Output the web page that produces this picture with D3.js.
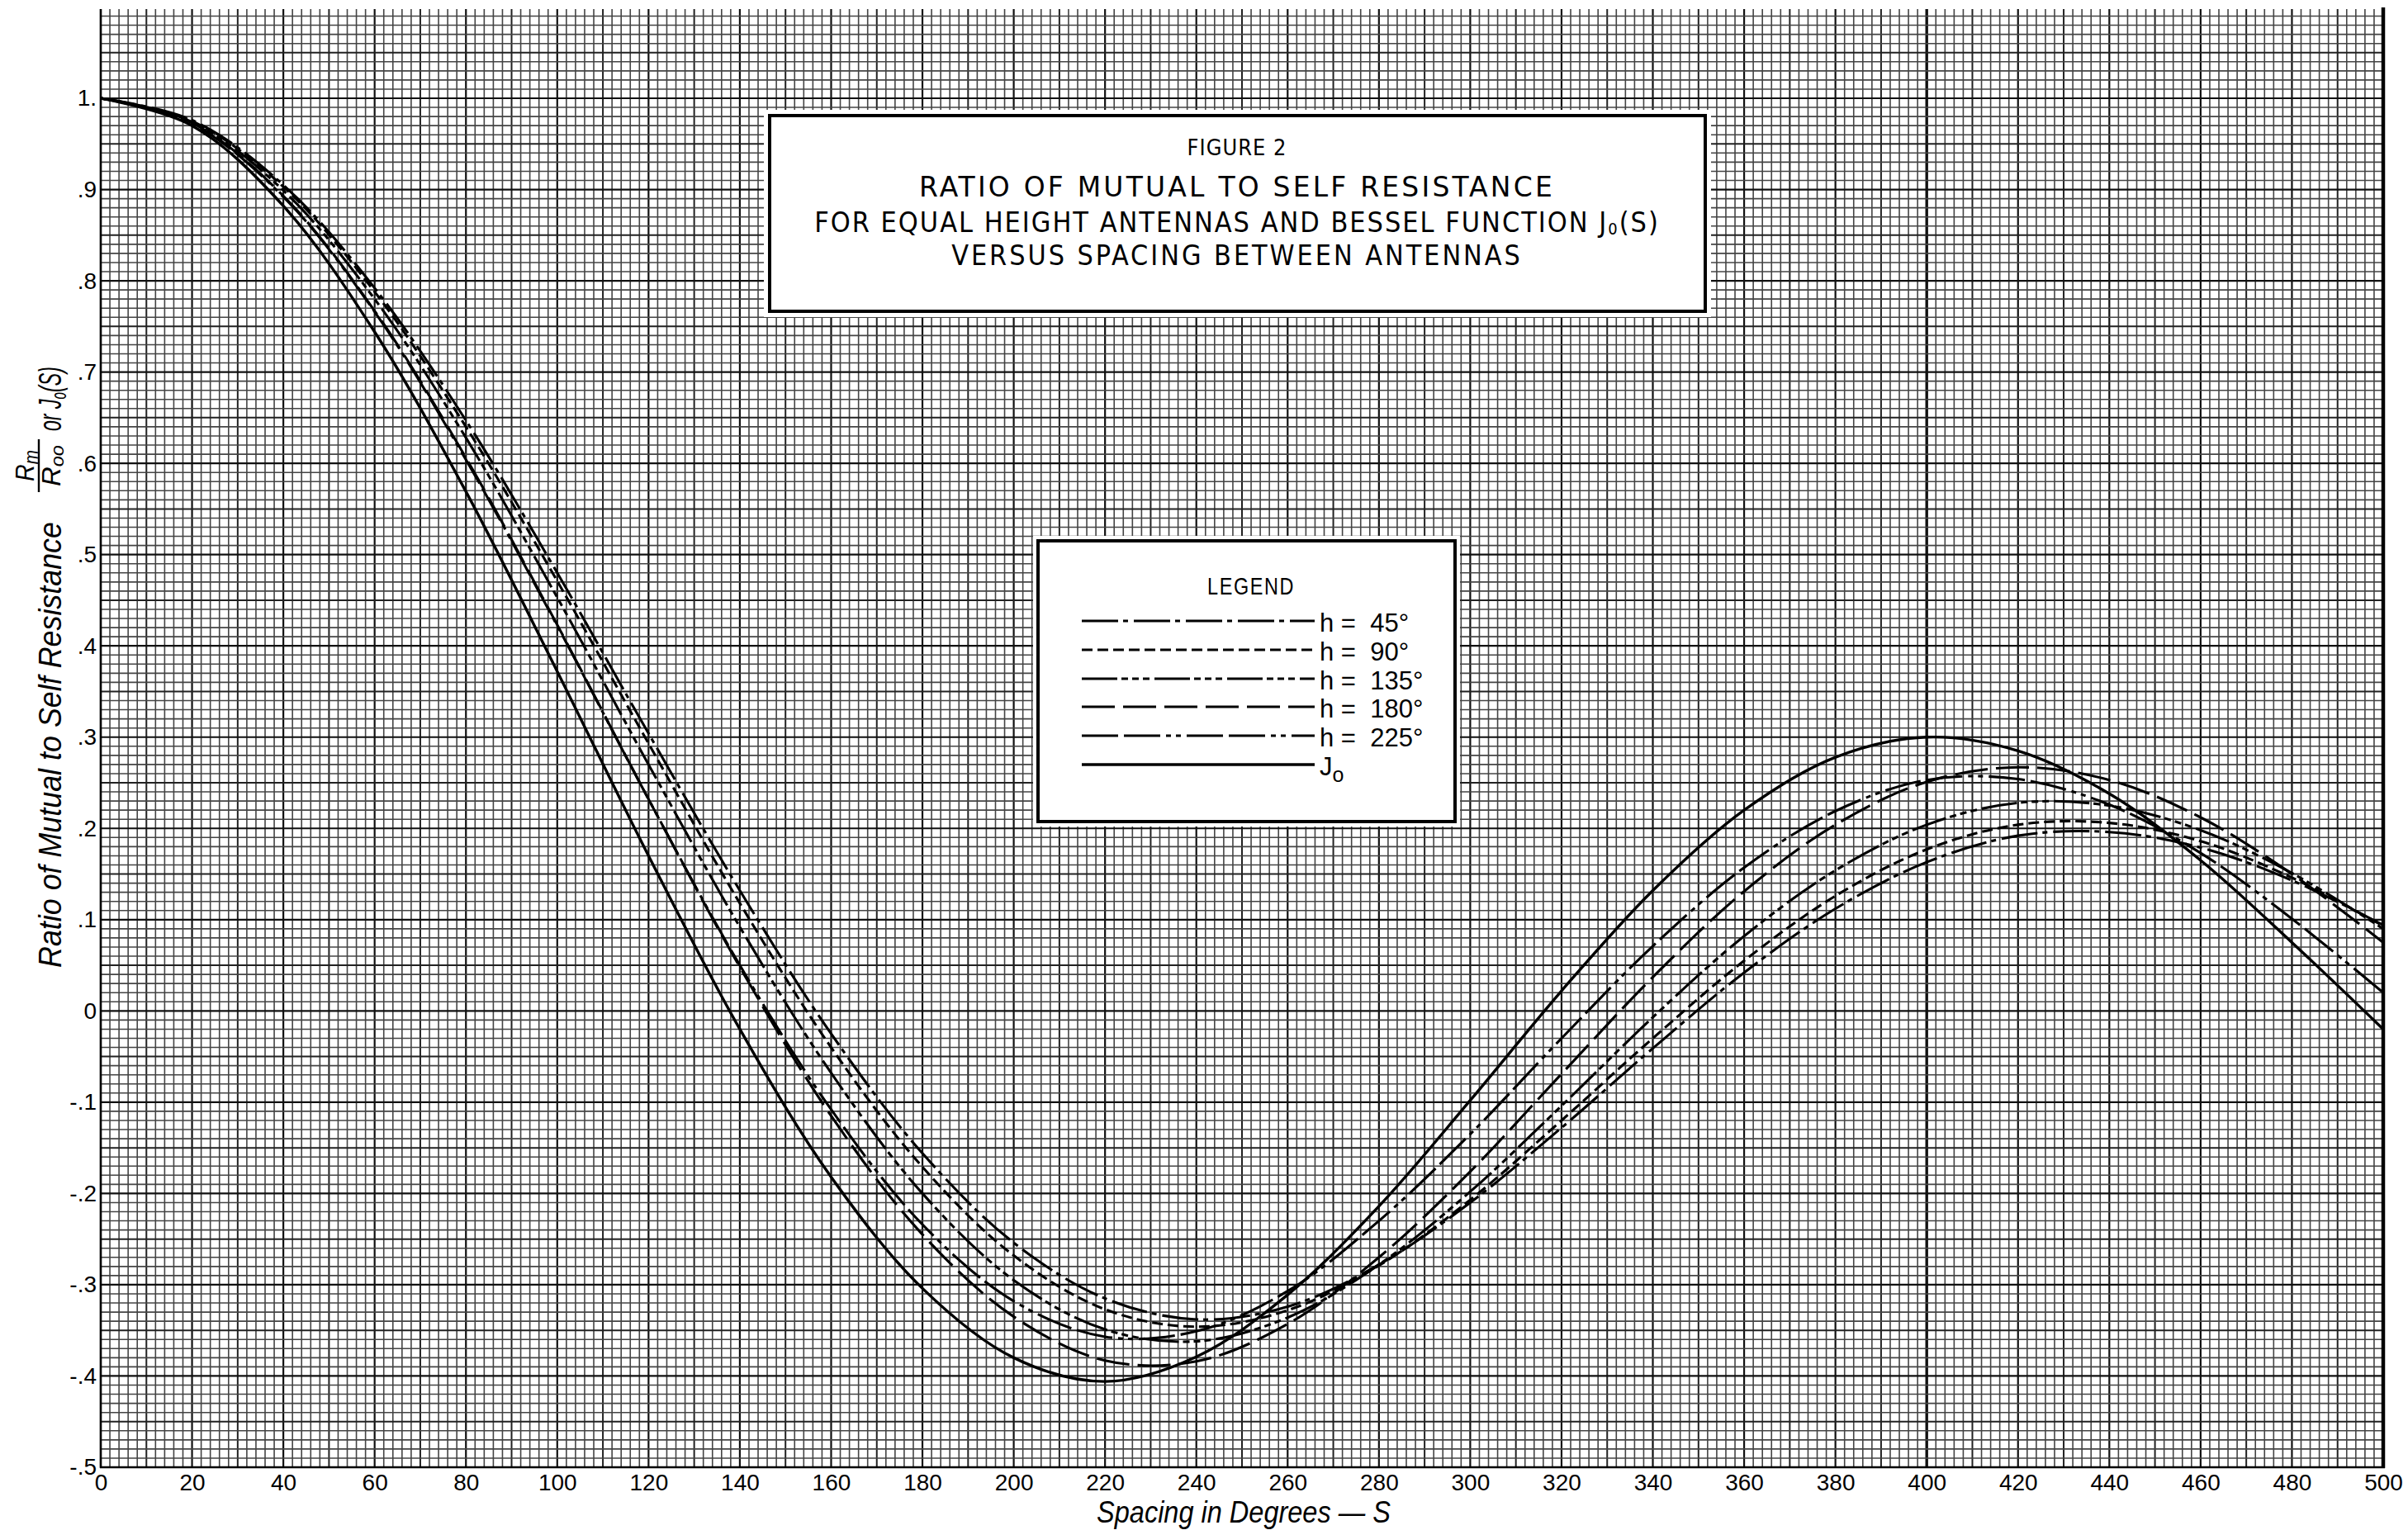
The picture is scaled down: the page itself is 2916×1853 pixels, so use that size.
<!DOCTYPE html>
<html>
<head>
<meta charset="utf-8">
<script src="https://cdn.jsdelivr.net/npm/d3@7"></script>
<style>
  html, body { margin: 0; padding: 0; background: #fff; }
  svg { display: block; }
</style>
</head>
<body>
<svg id="chart"></svg>
<script>
// spacing between antennas, degrees
const spacing = [0, 20, 40, 60, 80, 100, 120, 140, 160, 180, 200, 220, 240,
                 260, 280, 300, 320, 340, 360, 380, 400, 420, 440, 460, 480, 500];

// ratio Rm/Roo, one value per spacing
const jo   = [1.000, 0.970, 0.882, 0.744, 0.569, 0.372, 0.170, -0.020, -0.182, -0.304, -0.380, -0.406, -0.379,
              -0.311, -0.214, -0.098, 0.022, 0.132, 0.220, 0.278, 0.300, 0.285, 0.238, 0.165, 0.075, -0.020];
const h45  = [1.000, 0.976, 0.905, 0.792, 0.647, 0.480, 0.304, 0.132, -0.025, -0.156, -0.254, -0.315, -0.338,
              -0.324, -0.278, -0.210, -0.128, -0.041, 0.042, 0.112, 0.163, 0.192, 0.196, 0.179, 0.143, 0.094];
const h90  = [1.000, 0.975, 0.903, 0.788, 0.640, 0.471, 0.293, 0.118, -0.040, -0.171, -0.268, -0.327, -0.346,
              -0.328, -0.279, -0.207, -0.120, -0.030, 0.055, 0.126, 0.177, 0.204, 0.206, 0.186, 0.146, 0.093];
const h135 = [1.000, 0.974, 0.899, 0.780, 0.628, 0.453, 0.270, 0.092, -0.068, -0.200, -0.295, -0.349, -0.362,
              -0.336, -0.278, -0.198, -0.104, -0.007, 0.082, 0.154, 0.204, 0.228, 0.225, 0.198, 0.151, 0.090];
const h180 = [1.000, 0.973, 0.893, 0.767, 0.606, 0.423, 0.232, 0.048, -0.115, -0.245, -0.335, -0.383, -0.384,
              -0.343, -0.270, -0.176, -0.069, 0.037, 0.131, 0.204, 0.251, 0.267, 0.253, 0.212, 0.150, 0.075];
const h225 = [1.000, 0.972, 0.892, 0.766, 0.604, 0.422, 0.232, 0.050, -0.108, -0.234, -0.318, -0.357, -0.351,
              -0.307, -0.230, -0.135, -0.030, 0.071, 0.157, 0.219, 0.253, 0.254, 0.226, 0.173, 0.101, 0.020];

const xTicks = [0, 20, 40, 60, 80, 100, 120, 140, 160, 180, 200, 220, 240, 260, 280,
                300, 320, 340, 360, 380, 400, 420, 440, 460, 480, 500];
const yTicks = [1, 0.9, 0.8, 0.7, 0.6, 0.5, 0.4, 0.3, 0.2, 0.1, 0, -0.1, -0.2, -0.3, -0.4, -0.5];
const legendNames = ["h = 45°", "h = 90°", "h = 135°", "h = 180°", "h = 225°", "Jo"];

const series = [
  { name: "h = 45°", values: h45 },
  { name: "h = 90°", values: h90 },
  { name: "h = 135°", values: h135 },
  { name: "h = 180°", values: h180 },
  { name: "h = 225°", values: h225 },
  { name: "Jo", values: jo }
];

const dashes = {
  "h = 45°": "44 6 6 7",
  "h = 90°": "13 6",
  "h = 135°": "43 5 8 5 8 5 8 6",
  "h = 180°": "40 10",
  "h = 225°": "44 7 44 7 6 6 6 7",
  "Jo": null
};

const W = 2916, H = 1853;
const SANS = "'Liberation Sans', Arial, sans-serif";
const NARROW = "'Liberation Sans Narrow', 'DejaVu Sans Condensed', 'DejaVu Sans', sans-serif";

const svg = d3.select("#chart").attr("width", W).attr("height", H);
svg.append("rect").attr("width", W).attr("height", H).attr("fill", "#fff");

const x = d3.scaleLinear().domain([0, 500]).range([122, 2886]);
const y = d3.scaleLinear().domain([-0.5, 1]).range([1777, 119]);

// squeeze / stretch a text horizontally to a measured width (hand lettering is narrow)
function squeeze(sel, width) {
  const len = sel.node().getComputedTextLength();
  const x0 = +sel.attr("x");
  const k = width / len;
  sel.attr("transform", `translate(${x0},0) scale(${k.toFixed(4)},1) translate(${-x0},0)`);
}

// graph paper
const grid = svg.append("g");
for (let s = 0; s <= 500; s += 2) {
  const major = s % 20 === 0, mid = s % 10 === 0;
  grid.append("line")
    .attr("x1", x(s)).attr("x2", x(s))
    .attr("y1", y(-0.5)).attr("y2", 11)
    .attr("stroke", major ? "#111" : mid ? "#222" : "#444")
    .attr("stroke-width", s === 400 ? 3.4 : major ? 2.2 : mid ? 2 : 1.6);
}
for (let k = -50; k <= 109; k++) {
  const major = k % 10 === 0, mid = k % 5 === 0;
  grid.append("line")
    .attr("x1", x(0)).attr("x2", x(500))
    .attr("y1", y(k / 100)).attr("y2", y(k / 100))
    .attr("stroke", major ? "#111" : mid ? "#222" : "#444")
    .attr("stroke-width", major ? 2.2 : mid ? 2 : 1.6);
}
grid.append("line").attr("x1", x(500)).attr("x2", x(500))
  .attr("y1", y(-0.5) + 1).attr("y2", 9).attr("stroke", "#000").attr("stroke-width", 4.5);
grid.append("line").attr("x1", x(0)).attr("x2", x(0))
  .attr("y1", y(-0.5) + 1).attr("y2", 11).attr("stroke", "#000").attr("stroke-width", 2.5);
grid.append("line").attr("x1", x(0) - 1).attr("x2", x(500) + 2)
  .attr("y1", y(-0.5)).attr("y2", y(-0.5)).attr("stroke", "#000").attr("stroke-width", 2.5);

// axes (labels only)
const xAxis = svg.append("g")
  .attr("transform", `translate(0,${y(-0.5)})`)
  .call(d3.axisBottom(x).tickValues(xTicks).tickSize(0).tickPadding(8).tickFormat(d3.format("d")));
xAxis.select(".domain").remove();
xAxis.selectAll("text").attr("font-size", 28).attr("font-family", SANS).attr("fill", "#000");

const yFmt = v => v === 1 ? "1." : v === 0 ? "0" : (v < 0 ? "-" : "") + "." + Math.round(Math.abs(v) * 10);
const yAxis = svg.append("g")
  .attr("transform", `translate(${x(0)},0)`)
  .call(d3.axisLeft(y).tickValues(yTicks).tickSize(0).tickPadding(5).tickFormat(yFmt));
yAxis.select(".domain").remove();
yAxis.selectAll("text").attr("font-size", 28).attr("font-family", SANS).attr("fill", "#000");

// title box
svg.append("rect").attr("x", 925).attr("y", 133).attr("width", 1147).attr("height", 251).attr("fill", "#fff");
svg.append("rect").attr("x", 932).attr("y", 140).attr("width", 1133).attr("height", 237)
  .attr("fill", "none").attr("stroke", "#000").attr("stroke-width", 4);

const tcx = 1498;
const title = svg.append("g").attr("font-family", NARROW).attr("font-stretch", "condensed").attr("fill", "#000");
const t0 = title.append("text").attr("x", tcx).attr("y", 188).attr("text-anchor", "middle")
  .attr("font-size", 26).attr("letter-spacing", 1).text("FIGURE 2");
squeeze(t0, 121);
const t1 = title.append("text").attr("x", tcx).attr("y", 238).attr("text-anchor", "middle")
  .attr("font-size", 34).attr("letter-spacing", 3).text("RATIO OF MUTUAL TO SELF RESISTANCE");
squeeze(t1, 770);
const t2 = title.append("text").attr("x", tcx).attr("y", 281).attr("text-anchor", "middle")
  .attr("font-size", 34).attr("letter-spacing", 2);
t2.append("tspan").text("FOR EQUAL HEIGHT ANTENNAS AND BESSEL FUNCTION J");
t2.append("tspan").attr("font-size", 20).attr("dy", 3).text("0");
t2.append("tspan").attr("dy", -3).text("(S)");
squeeze(t2, 1024);
const t3 = title.append("text").attr("x", tcx).attr("y", 321).attr("text-anchor", "middle")
  .attr("font-size", 34).attr("letter-spacing", 3).text("VERSUS SPACING BETWEEN ANTENNAS");
squeeze(t3, 692);

// legend box
svg.append("rect").attr("x", 1251).attr("y", 649).attr("width", 517).attr("height", 352).attr("fill", "#fff");
svg.append("rect").attr("x", 1257).attr("y", 655).attr("width", 505).attr("height", 340)
  .attr("fill", "none").attr("stroke", "#000").attr("stroke-width", 4);
const lt = svg.append("text").attr("x", 1515).attr("y", 720).attr("text-anchor", "middle")
  .attr("font-family", SANS).attr("font-size", 29).attr("letter-spacing", 2).text("LEGEND");
squeeze(lt, 106);

const rowY = [752, 787, 822, 856, 891, 926];
legendNames.forEach((name, i) => {
  svg.append("line")
    .attr("x1", 1310).attr("x2", 1592).attr("y1", rowY[i]).attr("y2", rowY[i])
    .attr("stroke", "#000").attr("stroke-width", name === "Jo" ? 3.6 : 3.2)
    .attr("stroke-dasharray", dashes[name]);
  const t = svg.append("text").attr("x", 1598).attr("y", rowY[i] + 13)
    .attr("font-family", SANS).attr("font-size", 31);
  if (name === "Jo") {
    t.append("tspan").text("J");
    t.append("tspan").attr("font-size", 25).attr("dy", 8).text("o");
  } else {
    t.style("white-space", "pre").text(name.replace(" = ", " =  "));
  }
});

// curves
const line = d3.line()
  .x((d, i) => x(spacing[i]))
  .y(d => y(d))
  .curve(d3.curveCatmullRom.alpha(0.5));

svg.append("g").attr("fill", "none").attr("stroke", "#000")
  .selectAll("path")
  .data(series)
  .join("path")
  .attr("d", d => line(d.values))
  .attr("stroke-width", d => d.name === "Jo" ? 3.4 : 3.1)
  .attr("stroke-dasharray", d => dashes[d.name]);

// axis titles
const yt = svg.append("g").attr("transform", "translate(0,1172) rotate(-90)")
  .attr("font-family", SANS).attr("font-style", "italic").attr("fill", "#000");
const ytMain = yt.append("text").attr("x", 0).attr("y", 74).attr("font-size", 38)
  .text("Ratio of Mutual to Self Resistance");
squeeze(ytMain, 540);
const num = yt.append("text").attr("x", 608).attr("y", 41).attr("text-anchor", "middle").attr("font-size", 32);
num.append("tspan").text("R");
num.append("tspan").attr("font-size", 23).attr("dy", 5).text("m");
squeeze(num, 38);
yt.append("line").attr("x1", 576).attr("x2", 640).attr("y1", 47).attr("y2", 47)
  .attr("stroke", "#000").attr("stroke-width", 2.4);
const den = yt.append("text").attr("x", 608).attr("y", 73).attr("text-anchor", "middle").attr("font-size", 32);
den.append("tspan").text("R");
den.append("tspan").attr("font-size", 23).attr("dy", 4).text("oo");
squeeze(den, 50);
const orT = yt.append("text").attr("x", 650).attr("y", 74).attr("font-size", 38);
orT.append("tspan").text("or J");
orT.append("tspan").attr("font-size", 25).attr("dy", 6).text("o");
orT.append("tspan").attr("dy", -6).text("(S)");
squeeze(orT, 78);

const xt = svg.append("text").attr("x", 1506).attr("y", 1844).attr("text-anchor", "middle")
  .attr("font-family", SANS).attr("font-style", "italic").attr("font-size", 37)
  .text("Spacing in Degrees — S");
squeeze(xt, 356);
</script>
</body>
</html>
